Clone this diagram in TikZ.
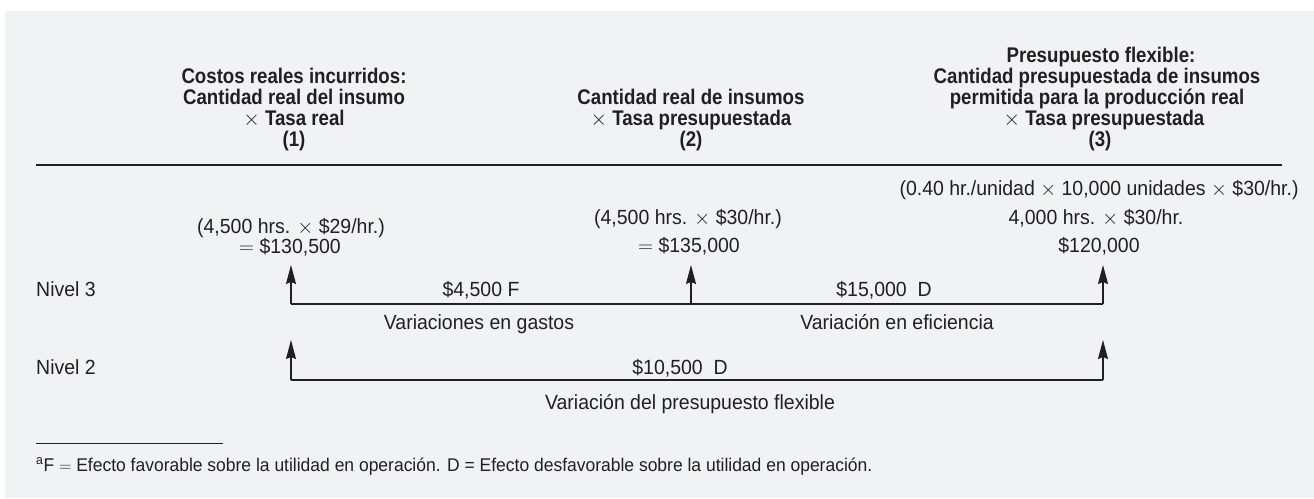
\documentclass[tikz,border=0pt]{standalone}
\usepackage{fontspec}
\setmainfont{Liberation Sans}
\newfontfamily\hfont[FakeStretch=0.88]{Liberation Sans}
\newfontfamily\rfont[FakeStretch=0.95]{Liberation Sans}
\newfontfamily\xfont{lmroman10-regular.otf}
\usetikzlibrary{arrows.meta}
\definecolor{ink}{HTML}{231F20}
\definecolor{panel}{HTML}{F1F2F4}
\newcommand{\tms}{{\xfont ×}}
\newcommand{\eqs}{\ensuremath{=}}
\tikzset{
  hb/.style={font=\hfont\bfseries\fontsize{21.2}{21}\selectfont, anchor=base, inner sep=0pt, text=ink},
  tx/.style={font=\rfont\fontsize{20.5}{20}\selectfont, anchor=base, inner sep=0pt, text=ink},
  lbl/.style={tx, anchor=base west},
  fn/.style={font=\rfont\fontsize{18.4}{18}\selectfont, anchor=base west, inner sep=0pt, text=ink},
  conn/.style={draw=ink, line width=1.3pt},
  arr/.style={conn, -{Stealth[length=19pt,width=10pt,inset=2pt]}},
}
\begin{document}
\begin{tikzpicture}[x=1pt,y=-1pt]
\useasboundingbox (0,0) rectangle (1314,498);
\fill[white] (0,0) rectangle (1314,498);
\fill[panel] (5,11) rectangle (1314,498);

% headings
\node[hb] (h1a) at (294,83.5) {Costos reales incurridos:};
\node[hb] (h1b) at (294,104.5) {Cantidad real del insumo};
\node[hb] (h1c) at (294,125.5) {\tms\ Tasa real};
\node[hb] (h1d) at (294,146.5) {(1)};

\node[hb] (h2b) at (691,104.5) {Cantidad real de insumos};
\node[hb] (h2c) at (691,125.5) {\tms\ Tasa presupuestada};
\node[hb] (h2d) at (691,146.5) {(2)};

\node[hb] (h3a) at (1101,62.5) {Presupuesto flexible:};
\node[hb] (h3b) at (1097,83.5) {Cantidad presupuestada de insumos};
\node[hb] (h3c) at (1097,104.5) {permitida para la producción real};
\node[hb] (h3d) at (1104,125.5) {\tms\ Tasa presupuestada};
\node[hb] (h3e) at (1100,146.5) {(3)};

% rule
\coordinate (rl) at (36,165);
\coordinate (rr) at (1282,165);
\draw[draw=ink, line width=2pt] (rl) -- (rr);

% values
\node[tx] (v1a) at (291,233) {(4,500 hrs. \tms\ \$29/hr.)};
\node[tx] (v1b) at (290,253) {\eqs\ \$130,500};
\node[tx] (v2a) at (688,224) {(4,500 hrs. \tms\ \$30/hr.)};
\node[tx] (v2b) at (689,252) {\eqs\ \$135,000};
\node[tx] (v3a) at (1099,195) {(0.40 hr./unidad \tms\ 10,000 unidades \tms\ \$30/hr.)};
\node[tx] (v3b) at (1096,224) {4,000 hrs. \tms\ \$30/hr.};
\node[tx] (v3c) at (1099,252) {\$120,000};

% level 3
\node[lbl] (n3) at (36,296) {Nivel 3};
\coordinate (a1) at (291,304);
\coordinate (a2) at (691,304);
\coordinate (a3) at (1103,304);
\coordinate (t1) at (291,265);
\coordinate (t2) at (691,265);
\coordinate (t3) at (1103,265);
\draw[conn] (a1) -- (a3);
\draw[arr] (a1) -- (t1);
\draw[arr] (a2) -- (t2);
\draw[arr] (a3) -- (t3);
\node[tx] (d1) at (481,296) {\$4,500 F};
\node[tx] (d2) at (884,296) {\$15,000\ \ D};
\node[tx] (e1) at (479,329) {Variaciones en gastos};
\node[tx] (e2) at (897,329) {Variación en eficiencia};

% level 2
\node[lbl] (n2) at (36,374) {Nivel 2};
\coordinate (b1) at (291,380);
\coordinate (b3) at (1103,380);
\coordinate (u1) at (291,340);
\coordinate (u3) at (1103,340);
\draw[conn] (b1) -- (b3);
\draw[arr] (b1) -- (u1);
\draw[arr] (b3) -- (u3);
\node[tx] (d3) at (680,374) {\$10,500\ \ D};
\node[tx] (e3) at (690,409) {Variación del presupuesto flexible};

% footnote
\coordinate (fl) at (36,443);
\coordinate (fr) at (223,443);
\draw[draw=ink, line width=1pt] (fl) -- (fr);
\node[fn] (fnote) at (36,471) {\textsuperscript{a}F \eqs\ Efecto favorable sobre la utilidad en operación. D = Efecto desfavorable sobre la utilidad en operación.};
\end{tikzpicture}
\end{document}
